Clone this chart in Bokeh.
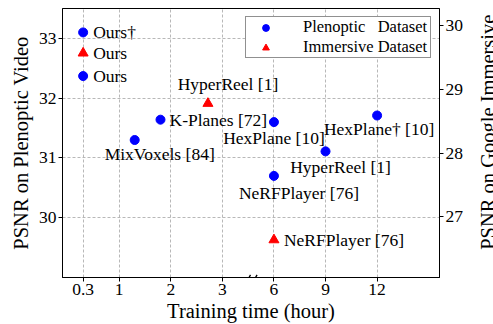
import math
from bokeh.plotting import figure
from bokeh.layouts import row
from bokeh.models import (Range1d, LinearAxis, FixedTicker, Legend, LegendItem,
                          ColumnDataSource, Arrow)
from bokeh.core.properties import value
from bokeh.embed import file_html
from bokeh.resources import INLINE

# ---------------- data ----------------
ple_names = ["Ours\u2020", "Ours", "K-Planes [72]", "MixVoxels [84]", "HexPlane [10]",
             "HexPlane\u2020 [10]", "HyperReel [1]", "NeRFPlayer [76]"]
ple_hours = [0.3, 0.3, 1.8, 1.3, 6, 12, 9, 6]
ple_psnr = [33.1, 32.37, 31.64, 31.3, 31.6, 31.71, 31.11, 30.7]

imm_names = ["Ours", "HyperReel [1]", "NeRFPlayer [76]"]
imm_hours = [0.3, 2.72, 6]
imm_psnr = [29.57, 28.78, 26.64]

tick_hours = [0.3, 1, 2, 3, 6, 9, 12]
left_ticks = [30, 31, 32, 33]
right_ticks = [27, 28, 29, 30]

x_title = "Training time (hour)"
left_title = "PSNR on Plenoptic Video"
right_title = "PSNR on Google Immersive"

# ---------------- layout / style ----------------
ple_dx = [10, 10, 9, 25, 0, 2, 15, 25]
ple_dy = [0, 0, 0, 14, 16, 13, 16, 17]
ple_align = ["left", "left", "left", "center", "center", "center", "center", "center"]
imm_dx = [10, 20, 10]
imm_dy = [0, -19, 0]
imm_align = ["left", "center", "left"]

BREAK_AT = 3.5      # hours where the axis is broken
RIGHT_START = 6.0   # first hour of the compressed part
COMPRESS = 3.0      # hours per unit on the right part


def to_u(t):
    """Broken-axis transform: linear up to the break, compressed after it."""
    if t <= BREAK_AT:
        return t
    return 4.0 + (t - RIGHT_START) / COMPRESS


FONT = "Liberation Serif"
X_RANGE = (-0.1, 7.21)
Y_LEFT = (29.0, 33.5)
Y_RIGHT = (26.05, 30.27)

W_TOTAL, H = 493, 324
W_TITLE = 27                      # strip on the right that holds the right-hand title
W = W_TOTAL - W_TITLE
BL, BR, BT, BB = 62, W - 442, 8, H - 277
FW, FH = W - BL - BR, H - BT - BB
ux = (X_RANGE[1] - X_RANGE[0]) / FW
uy = (Y_LEFT[1] - Y_LEFT[0]) / FH

p = figure(width=W, height=H, output_backend="svg", toolbar_location=None,
           x_range=Range1d(*X_RANGE), y_range=Range1d(*Y_LEFT),
           min_border_left=BL, min_border_right=BR, min_border_top=BT, min_border_bottom=BB)
p.extra_y_ranges = {"imm": Range1d(*Y_RIGHT)}
p.outline_line_color = "black"
p.outline_line_width = 1
p.background_fill_color = "white"
p.border_fill_color = "white"

ple_src = ColumnDataSource(dict(u=[to_u(t) for t in ple_hours], y=ple_psnr, name=ple_names,
                                dx=ple_dx, dy=ple_dy, al=ple_align))
imm_src = ColumnDataSource(dict(u=[to_u(t) for t in imm_hours], y=imm_psnr, name=imm_names,
                                dx=imm_dx, dy=imm_dy, al=imm_align))

r_ple = p.scatter("u", "y", source=ple_src, marker="circle", size=9,
                  fill_color="#0000ff", line_color="#0000ff")
r_imm = p.scatter("u", "y", source=imm_src, marker="triangle", size=10,
                  fill_color="#ff0000", line_color="#ff0000", y_range_name="imm")

for src, yr in ((ple_src, "default"), (imm_src, "imm")):
    p.text("u", "y", text="name", source=src, x_offset="dx", y_offset="dy",
           text_align="al", text_baseline="middle", text_color="black",
           text_font=value(FONT), text_font_size=value("17.5px"), y_range_name=yr)

# axes
ticks_u = [to_u(t) for t in tick_hours]
xax = p.xaxis[0]
xax.ticker = FixedTicker(ticks=ticks_u)
xax.major_label_overrides = {u: (str(t) if t != int(t) else str(int(t)))
                             for u, t in zip(ticks_u, tick_hours)}
xax.axis_label = x_title

yax = p.yaxis[0]
yax.ticker = FixedTicker(ticks=left_ticks)
yax.axis_label = left_title

rax = LinearAxis(y_range_name="imm", ticker=FixedTicker(ticks=right_ticks))
p.add_layout(rax, "right")

for ax in (xax, yax, rax):
    ax.major_label_text_font = FONT
    ax.major_label_text_font_size = "17.5px"
    ax.major_label_text_color = "black"
    ax.axis_label_text_font = FONT
    ax.axis_label_text_font_size = "20.5px"
    ax.axis_label_text_font_style = "normal"
    ax.axis_label_text_color = "black"
    ax.axis_line_color = "black"
    ax.major_tick_line_color = "black"
    ax.major_tick_out = 4
    ax.major_tick_in = 0
    ax.minor_tick_line_color = None
    ax.major_label_standoff = 2
xax.axis_label_standoff = 2
yax.axis_label_standoff = 4

# grid
p.xgrid.ticker = FixedTicker(ticks=ticks_u)
for g in (p.xgrid[0], p.ygrid[0]):
    g.grid_line_color = "#b0b0b0"
    g.grid_line_dash = "3 2"
    g.grid_line_width = 0.9

# break marks on the bottom axis
xb = 3.58
for off in (-3.3, 3.3):
    p.add_layout(Arrow(end=None, x_start=xb + (off - 1.5) * ux, y_start=Y_LEFT[0] - 2.6 * uy,
                       x_end=xb + (off + 1.5) * ux, y_end=Y_LEFT[0] + 2.6 * uy,
                       line_color="black", line_width=1.3))

# legend
legend = Legend(items=[LegendItem(label="Plenoptic\u00a0\u00a0\u00a0Dataset", renderers=[r_ple]),
                       LegendItem(label="Immersive Dataset", renderers=[r_imm])],
                location="top_right")
legend.label_text_font = FONT
legend.label_text_font_size = "16.5px"
legend.label_text_color = "black"
legend.border_line_color = "#222222"
legend.border_line_width = 1.2
legend.background_fill_color = "white"
legend.background_fill_alpha = 1
legend.margin = 8
legend.padding = 0
legend.spacing = 0
legend.glyph_width = 39
legend.glyph_height = 17
legend.label_height = 17
legend.label_standoff = 18
legend.label_width = 127
p.add_layout(legend)

# right-hand title strip (reads bottom to top)
t = figure(width=W_TITLE, height=H, output_backend="svg", toolbar_location=None,
           x_range=Range1d(0, W_TITLE), y_range=Range1d(0, H),
           x_axis_location=None, y_axis_location=None,
           min_border_left=0, min_border_right=0, min_border_top=0, min_border_bottom=0)
t.grid.visible = False
t.outline_line_color = None
t.background_fill_color = "white"
t.border_fill_color = "white"
t.text(x=[487 - W], y=[H - 149], text=[right_title], angle=math.pi / 2,
       text_align="center", text_baseline="alphabetic", text_color="black",
       text_font=value(FONT), text_font_size=value("20.5px"))

layout = row(p, t, spacing=0)
open("out.html", "w").write(file_html(layout, INLINE))
